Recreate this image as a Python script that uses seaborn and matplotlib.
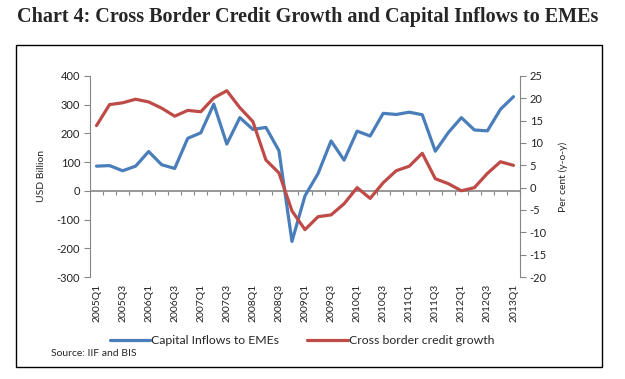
import pandas as pd
import numpy as np
import matplotlib.pyplot as plt
import seaborn as sns

# quarterly data, 2005Q1 - 2013Q1
quarters = [f'{y}Q{q}' for y in range(2005, 2013) for q in range(1, 5)] + ['2013Q1']
capital_inflows = [86, 88, 70, 86, 137, 91, 78, 183, 202, 302, 163, 255, 214, 221, 140, -176,
                   -17, 60, 174, 107, 208, 191, 270, 266, 274, 265, 138, 203, 255, 212, 209, 284, 328]
credit_growth = [13.9, 18.6, 19.0, 19.8, 19.2, 17.8, 16.0, 17.3, 17.0, 20.1, 21.7, 17.9, 14.8, 6.2, 3.3, -5.2,
                 -9.4, -6.5, -6.1, -3.6, 0.0, -2.4, 1.1, 3.8, 4.8, 7.7, 2.0, 0.9, -0.7, 0.0, 3.2, 5.8, 5.0]

df = pd.DataFrame({'idx': range(len(quarters)), 'quarter': quarters,
                   'inflows': capital_inflows, 'credit': credit_growth})

sns.set_style('white')
plt.rcParams['font.family'] = ['Lato', 'DejaVu Sans']
plt.rcParams['axes.unicode_minus'] = False

blue = '#4a7ebb'
red = '#be4b48'
grey = '#868686'

fig = plt.figure(figsize=(6.25, 3.79), dpi=100)
ax = fig.add_axes([90/625, 1 - 277/379, 430/625, 201/379])
ax2 = ax.twinx()

sns.lineplot(data=df, x='idx', y='inflows', ax=ax, color=blue, linewidth=2.3, label='Capital Inflows to EMEs', legend=False)
sns.lineplot(data=df, x='idx', y='credit', ax=ax2, color=red, linewidth=2.3, label='Cross border credit growth', legend=False)

ax.set_ylim(-300, 400)
ax.set_yticks(range(-300, 401, 100))
ax2.set_ylim(-20, 25)
ax2.set_yticks(range(-20, 26, 5))
ax.set_xlim(-0.5, len(quarters) - 0.5)

# x labels every second quarter at the bottom, no tick marks
ax.set_xticks(df['idx'][::2])
ax.set_xticklabels(df['quarter'][::2], rotation=90)
ax.tick_params(axis='x', length=0, labelsize=7.5, pad=5, labelcolor='#222222')

# zero line with small tick marks per quarter
ax.axhline(0, color=grey, linewidth=1.2, zorder=1)
zero_ax = ax.secondary_xaxis(300/700)
zero_ax.xaxis.set_ticks_position('bottom')
zero_ax.set_xticks(np.arange(len(quarters)) + 0.5)
zero_ax.set_xticklabels([])
zero_ax.tick_params(axis='x', direction='out', length=3, color=grey)
zero_ax.spines['bottom'].set_visible(False)
zero_ax.spines['top'].set_visible(False)

for a in (ax, ax2):
    a.spines['top'].set_visible(False)
    a.spines['bottom'].set_visible(False)
    a.spines['left'].set_color(grey)
    a.spines['right'].set_color(grey)
    a.set_xlabel('')
ax.spines['right'].set_visible(False)
ax2.spines['left'].set_visible(False)

ax.tick_params(axis='y', direction='out', length=4, color=grey, labelsize=8, labelcolor='#222222', pad=3)
ax2.tick_params(axis='y', direction='out', length=4, color=grey, labelsize=8, labelcolor='#222222', pad=3)
ax.yaxis.set_ticks_position('left')
ax.set_ylabel('USD Billion', fontsize=7.5, labelpad=8)
ax2.set_ylabel('Per cent (y-o-y)', fontsize=7.5, labelpad=8)

fig.legend(loc='center', bbox_to_anchor=(302/625, 1 - 341/379), ncol=2, frameon=False,
           fontsize=8.8, handlelength=3.3, handletextpad=0.1, columnspacing=2.3)

fig.text(51/625, 1 - 353/379, 'Source: IIF and BIS', fontsize=7.5, va='center', ha='left')
fig.text(308/625, 1 - 17/379, 'Chart 4: Cross Border Credit Growth and Capital Inflows to EMEs',
         family='Liberation Serif', fontweight='bold', fontsize=14.5, ha='center', va='center')

# frame around the chart
fig.add_artist(plt.Rectangle((16/625, 1 - 367/379), 586/625, 322/379, transform=fig.transFigure,
                             fill=False, edgecolor='black', linewidth=1))

fig.savefig('out.png', dpi=100)
